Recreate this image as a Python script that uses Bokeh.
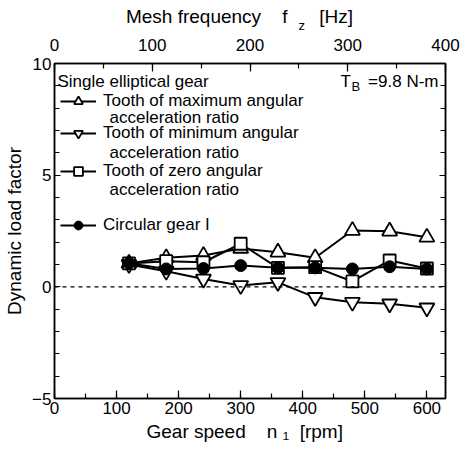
import math
from bokeh.plotting import figure
from bokeh.models import (Range1d, LinearAxis, Span, Label, Legend, LegendItem,
                          SingleIntervalTicker)
from bokeh.embed import file_html
from bokeh.resources import INLINE

# ---- data ----
speed = [120, 180, 240, 300, 360, 420, 480, 540, 600]
max_ratio = [1.05, 1.3, 1.4, 1.72, 1.55, 1.3, 2.52, 2.49, 2.22]
min_ratio = [1.0, 0.7, 0.35, 0.06, 0.2, -0.47, -0.69, -0.76, -0.94]
zero_ratio = [1.05, 1.15, 1.1, 1.93, 0.85, 0.88, 0.24, 1.18, 0.82]
circular = [1.06, 0.8, 0.82, 0.95, 0.85, 0.85, 0.8, 0.9, 0.8]

speed_range = (0, 630)
freq_range = (0, 400)
y_range = (-5, 10)

FONT = "Liberation Sans"
FS = "17px"
FS_T = "19px"
FS_SUB = "13px"
NB = "\u00a0"

p = figure(width=462, height=450, x_range=Range1d(*speed_range), y_range=Range1d(*y_range),
           output_backend="svg", toolbar_location=None,
           min_border_left=54, min_border_right=17, min_border_top=63, min_border_bottom=52)
p.xgrid.visible = False
p.ygrid.visible = False
p.outline_line_color = "black"
p.outline_line_width = 1.5
p.background_fill_color = "white"
p.border_fill_color = "white"

def style_axis(ax, labels=True):
    ax.axis_line_color = "black"
    ax.axis_line_width = 1.5
    ax.major_tick_line_color = "black"
    ax.minor_tick_line_color = "black"
    ax.major_tick_line_width = 1.2
    ax.minor_tick_line_width = 1.2
    ax.major_tick_in = 8
    ax.major_tick_out = 0
    ax.minor_tick_in = 5
    ax.minor_tick_out = 0
    ax.major_label_text_font = FONT
    ax.major_label_text_color = "black"
    ax.major_label_standoff = 3
    ax.axis_label_text_font = FONT
    ax.axis_label_text_font_size = FS_T
    ax.axis_label_text_font_style = "normal"
    ax.axis_label_text_color = "black"
    ax.axis_label_standoff = 4
    if labels:
        ax.major_label_text_font_size = FS
    else:
        ax.major_label_text_font_size = "1px"
        ax.major_label_text_color = None
        ax.major_label_standoff = 0

p.xaxis.ticker = SingleIntervalTicker(interval=100, num_minor_ticks=2)
p.yaxis.ticker = SingleIntervalTicker(interval=5, num_minor_ticks=5)
style_axis(p.xaxis[0])
style_axis(p.yaxis[0])
p.yaxis[0].major_tick_in = 6
p.xaxis[0].axis_label = "Gear speed" + NB * 4 + "n" + NB + "\u2081" + NB * 2 + "[rpm]" + NB * 2
p.yaxis[0].axis_label = "Dynamic load factor"
p.yaxis[0].axis_label_standoff = 4

p.extra_x_ranges = {"fz": Range1d(*freq_range)}
top = LinearAxis(x_range_name="fz", ticker=SingleIntervalTicker(interval=100, num_minor_ticks=2))
style_axis(top)
top.major_label_standoff = 13
top.axis_label_standoff = 9
top.axis_label = "Mesh frequency" + NB * 4 + "f" + NB * 6 + "[Hz]" + NB * 4
p.add_layout(top, "above")

right = LinearAxis(ticker=SingleIntervalTicker(interval=5, num_minor_ticks=5))
style_axis(right, labels=False)
right.major_tick_in = 6
p.add_layout(right, "right")

p.add_layout(Span(location=0, dimension="width", line_color="black", line_width=1.2,
                  line_dash="4 4"))

LW = 2
l1 = p.line(speed, max_ratio, line_color="black", line_width=LW)
s1 = p.scatter(speed, max_ratio, marker="triangle", size=15, fill_color="white",
               line_color="black", line_width=1.8)
l2 = p.line(speed, min_ratio, line_color="black", line_width=LW)
s2 = p.scatter(speed, min_ratio, marker="inverted_triangle", size=15, fill_color="white",
               line_color="black", line_width=1.8)
l3 = p.line(speed, zero_ratio, line_color="black", line_width=LW)
s3 = p.scatter(speed, zero_ratio, marker="square", size=12, fill_color="white",
               line_color="black", line_width=1.8)
l4 = p.line(speed, circular, line_color="black", line_width=LW)
s4 = p.scatter(speed, circular, marker="circle", size=12, fill_color="black",
               line_color="black", line_width=1)

def add_legend(renderers, label, vx, vy):
    lg = Legend(items=[LegendItem(label=label, renderers=renderers)], location=(vx, vy),
                border_line_color=None, background_fill_alpha=0, padding=0, margin=0,
                spacing=0, glyph_width=36, glyph_height=22, label_height=22,
                label_width=10, label_standoff=7, label_text_font_size=FS,
                label_text_font=FONT, label_text_color="black")
    p.add_layout(lg, "center")

add_legend([l1, s1], "Tooth of maximum angular", 6, 286)
add_legend([l2, s2], "Tooth of minimum angular", 6, 254)
add_legend([l3, s3], "Tooth of zero angular", 6, 216)
add_legend([l4, s4], "Circular gear I", 6, 162)

def lab(x, y, text, size=FS, align="left", angle=0, side="center"):
    p.add_layout(Label(x=x, y=y, x_units="screen", y_units="screen", text=text,
                       text_font=FONT, text_font_size=size, text_color="black",
                       text_align=align, text_baseline="middle", angle=angle), side)

lab(3, 317, "Single elliptical gear")
lab(55, 281, "acceleration ratio")
lab(55, 246, "acceleration ratio")
lab(55, 209, "acceleration ratio")

lab(286, 317, "T")
lab(297, 312, "B", size=FS_SUB)
lab(384, 317, "=9.8 N-m", align="right")

# subscript z of the top axis title (right side panel has spare room and is not clipped)
lab(-147, 373, "z", size=FS_SUB, side="right")

open("out.html", "w").write(file_html(p, INLINE))
